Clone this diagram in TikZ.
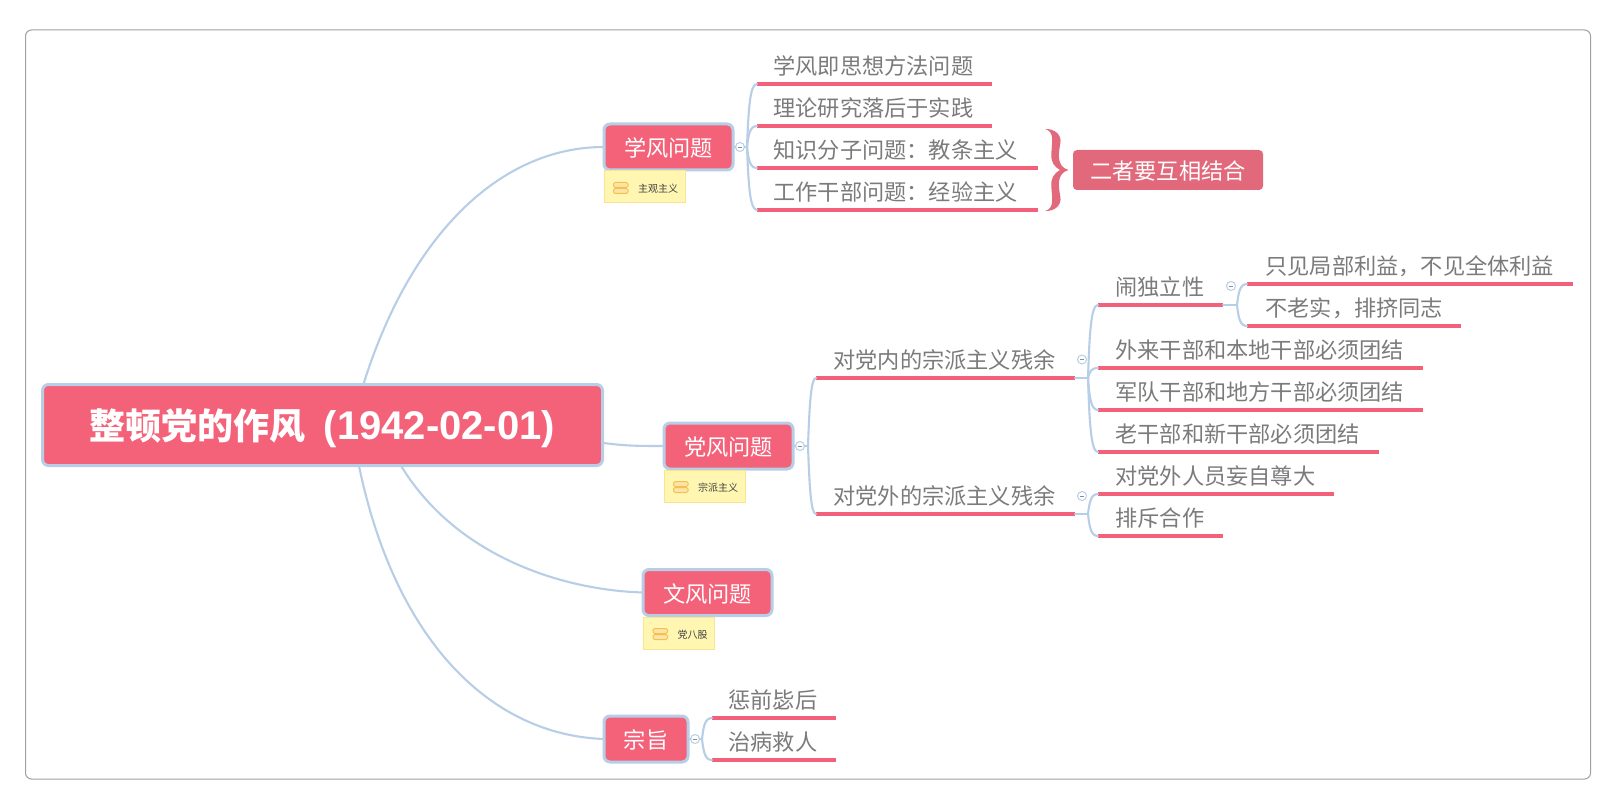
\documentclass[tikz,border=0pt]{standalone}
\usepackage{fontspec}
\setmainfont{Noto Sans CJK SC}
\newfontfamily\latinhead{Liberation Sans}
\usetikzlibrary{calc}
\definecolor{rosefill}{HTML}{F4627A}
\definecolor{roseline}{HTML}{F2607A}
\definecolor{rosedark}{HTML}{E1697B}
\definecolor{bluelink}{HTML}{B8CEE7}
\definecolor{greytext}{HTML}{7B7B7B}
\definecolor{framegrey}{HTML}{A0A0A0}
\definecolor{noteback}{HTML}{FFF6B2}
\definecolor{noteedge}{HTML}{FBE48F}
\definecolor{iconedge}{HTML}{F3C24E}
\definecolor{iconfill}{HTML}{FDE3A8}
\newcommand\lowered[2]{\raisebox{-#1pt}[\height][\depth]{#2}}
\tikzset{
  conn/.style={draw=bluelink,line width=2.1pt,line cap=round},
  underl/.style={draw=roseline,line width=3.3pt},
  leafnode/.style={inner sep=0pt,outer sep=0pt,minimum height=36pt,anchor=south west,text=greytext,font=\fontsize{22.2}{26}\selectfont},
  topic/.style={draw=bluelink,fill=rosefill,line width=3pt,rounded corners=6pt,inner sep=0pt,outer sep=0pt,text=white,font=\fontsize{22.2}{26}\selectfont},
  rootnode/.style={topic,font=\fontsize{36}{42}\bfseries\selectfont},
  sumlabel/.style={fill=rosedark,rounded corners=4pt,inner sep=0pt,outer sep=0pt,text=white,font=\fontsize{22.2}{26}\selectfont},
  notenode/.style={draw=noteedge,fill=noteback,line width=1pt,inner sep=0pt,outer sep=0pt,anchor=north west,minimum height=32pt,text=black!75,font=\fontsize{10}{12}\selectfont},
  collapse/.style={circle,draw=bluelink,fill=white,line width=1pt,minimum size=9pt,inner sep=0pt,outer sep=0pt,
    path picture={\draw[draw=black!45,line width=.8pt] ($(path picture bounding box.center)+(-2.2,0)$) -- ($(path picture bounding box.center)+(2.2,0)$);}},
  iconbar/.style={draw=iconedge,fill=iconfill,line width=1pt,rounded corners=1.5pt}
}
% name, x1, x2, y of the underline, text start padding, text
\newcommand\leafat[6]{%
  \pgfmathsetmacro\leafw{#3-#2}%
  \node[leafnode] (#1) at (#2,#4) {\makebox[\leafw pt][l]{\hspace*{#5pt}#6}};
  \draw[underl] (#1.south west) -- (#1.south east);
}
% trunk, child: a curve that leaves upright and lands level
\newcommand\branchto[2]{%
  \draw[conn] (#1) .. controls ($(#1)!.62!(#1|-#2.south west)+(1.5,0)$) and ($(#1|-#2.south west)+(3,0)$) .. (#2.south west);
}
% name, x1, y1, width, text
\newcommand\noteat[5]{%
  \node[notenode,minimum width=#4pt] (#1) at (#2,#3) {\makebox[#4pt][l]{\hspace*{34pt}\lowered{2}{#5}}};
  \draw[iconbar] ($(#1.north west)+(9.5,11.5)$) rectangle ($(#1.north west)+(24,16.5)$);
  \draw[iconbar] ($(#1.north west)+(9.5,17.5)$) rectangle ($(#1.north west)+(24,22.5)$);
}
\begin{document}
\begin{tikzpicture}[x=1pt,y=-1pt]
\useasboundingbox (0,0) rectangle (1616,810);
\fill[white] (0,0) rectangle (1616,810);
\node[draw=framegrey,line width=1pt,rounded corners=6pt,minimum width=1565pt,minimum height=749pt,inner sep=0pt,outer sep=0pt] (frame) at (808,404.5) {};

% root and the four topics
\node[rootnode,minimum width=560pt,minimum height=81pt] (root) at (322.5,425) {\lowered{3}{整顿党的作风\hspace{18pt}{\fontsize{40}{46}\selectfont\latinhead (1942-02-01)}}\hspace{4pt}};
\node[topic,minimum width=129pt,minimum height=46pt] (xf) at (668.5,147) {\lowered{1}{学风问题}};
\node[topic,minimum width=129pt,minimum height=46pt] (df) at (728.5,446) {\lowered{1}{党风问题}};
\node[topic,minimum width=129pt,minimum height=46pt] (wf) at (707.5,592.5) {\lowered{1}{文风问题}};
\node[topic,minimum width=84pt,minimum height=46pt] (zz) at (646,739) {\lowered{1}{宗旨}};

\draw[conn] ($(root.north west)!.573!(root.north east)$) .. controls (410,235) and (500,147) .. (xf.west);
\draw[conn] ($(root.north east)!.72!(root.south east)$) .. controls (625,446) and (640,446) .. (df.west);
\draw[conn] ($(root.south west)!.64!(root.south east)$) .. controls (455,555) and (560,590) .. (wf.west);
\draw[conn] ($(root.south west)!.565!(root.south east)$) .. controls (395,640) and (490,735) .. (zz.west);

% notes
\noteat{nxf}{604}{171}{81}{主观主义}
\noteat{ndf}{664}{470}{81}{宗派主义}
\noteat{nwf}{643.5}{617}{71}{党八股}

% xf branch
\leafat{a1}{757}{992}{84}{16.5}{学风即思想方法问题}
\leafat{a2}{757}{992}{126}{16.5}{理论研究落后于实践}
\leafat{a3}{757}{1038}{168}{16.5}{知识分子问题：教条主义}
\leafat{a4}{757}{1038}{210}{16.5}{工作干部问题：经验主义}
\node[collapse] (cxf) at (740,147) {};
\coordinate (txf) at (747,147);
\draw[conn] (xf.east) -- (cxf.west);
\draw[conn] (cxf.east) -- (txf);
\branchto{txf}{a1}\branchto{txf}{a2}\branchto{txf}{a3}\branchto{txf}{a4}

% summary
\node[sumlabel,minimum width=190pt,minimum height=40pt] (sum) at (1168,170) {\lowered{.7}{二者要互相结合}};
\begin{scope}[shift={(980,110)},x=.3333pt,y=-.3333pt]
  \fill[rosedark] (195,57) .. controls (225,56) and (246,75) .. (241,100)
    .. controls (236,130) and (228,168) .. (265,180)
    .. controls (228,192) and (236,230) .. (241,260)
    .. controls (246,285) and (225,304) .. (195,303)
    .. controls (224,296) and (216,265) .. (214,230)
    .. controls (212,205) and (222,190) .. (240,180)
    .. controls (222,170) and (212,155) .. (214,130)
    .. controls (216,95) and (224,64) .. (195,57) -- cycle;
\end{scope}

% df branch
\leafat{b1}{816}{1075}{378}{17.5}{对党内的宗派主义残余}
\leafat{b2}{816}{1075}{514}{17.5}{对党外的宗派主义残余}
\node[collapse] (cdf) at (800,446) {};
\coordinate (tdf) at (808,446);
\draw[conn] (df.east) -- (cdf.west);
\draw[conn] (cdf.east) -- (tdf);
\branchto{tdf}{b1}\branchto{tdf}{b2}

\leafat{c1}{1098}{1223}{305}{17.5}{闹独立性}
\leafat{c2}{1098}{1423}{368}{17.5}{外来干部和本地干部必须团结}
\leafat{c3}{1098}{1423}{410}{17.5}{军队干部和地方干部必须团结}
\leafat{c4}{1098}{1379}{452}{17.5}{老干部和新干部必须团结}
\node[collapse] (cb1) at (1082,359.5) {};
\coordinate (tb1) at (1088,378);
\draw[conn] (b1.south east) -- (tb1);
\branchto{tb1}{c1}\branchto{tb1}{c2}\branchto{tb1}{c3}\branchto{tb1}{c4}

\leafat{d1}{1247}{1573}{284}{18.5}{只见局部利益，不见全体利益}
\leafat{d2}{1247}{1461}{326}{18.5}{不老实，排挤同志}
\node[collapse] (cc1) at (1231,286) {};
\coordinate (tc1) at (1237,305);
\draw[conn] (c1.south east) -- (tc1);
\branchto{tc1}{d1}\branchto{tc1}{d2}

\leafat{e1}{1098}{1334}{494}{17.5}{对党外人员妄自尊大}
\leafat{e2}{1098}{1223}{536}{17.5}{排斥合作}
\node[collapse] (cb2) at (1082,496) {};
\coordinate (tb2) at (1088,514);
\draw[conn] (b2.south east) -- (tb2);
\branchto{tb2}{e1}\branchto{tb2}{e2}

% zz branch
\leafat{f1}{712}{836}{718}{16.5}{惩前毖后}
\leafat{f2}{712}{836}{760}{16.5}{治病救人}
\node[collapse] (czz) at (695,739) {};
\coordinate (tzz) at (702,739);
\draw[conn] (zz.east) -- (czz.west);
\draw[conn] (czz.east) -- (tzz);
\branchto{tzz}{f1}\branchto{tzz}{f2}
\end{tikzpicture}
\end{document}
